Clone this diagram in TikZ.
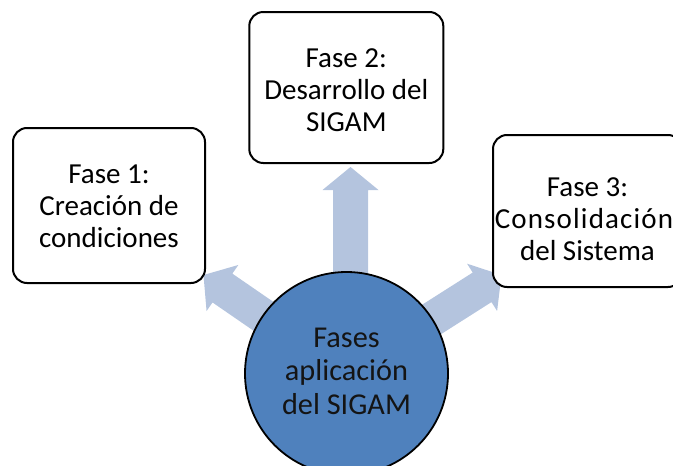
\documentclass[tikz,border=0pt]{standalone}
\usepackage{fontspec}
\setmainfont{Carlito}
\usetikzlibrary{calc}
\definecolor{arrowc}{RGB}{180,196,222}
\definecolor{circc}{RGB}{79,129,189}
\begin{document}
\begin{tikzpicture}[x=1pt,y=-1pt,
  phase/.style={draw=black, line width=2pt, rounded corners=14pt, fill=white,
    inner sep=0pt},
  phasetext/.style={align=center, inner sep=0pt, font=\fontsize{29}{32}\selectfont},
  hub/.style={circle, draw=black, line width=1.8pt, fill=circc,
    inner sep=0pt, minimum size=203pt},
  hubtext/.style={align=center, inner sep=0pt, text=black!92,
    font=\fontsize{30.3}{33.5}\selectfont},
  flowfill/.style={fill=arrowc}]
\useasboundingbox (0,0) rectangle (673,466);
\clip (0,0) rectangle (673,466);
% anchors of the arrows
\coordinate (hc) at (346.5,373.5);
\coordinate (s2) at (350.5,373.5);
\coordinate (t1) at (203.5,275);
\coordinate (t2) at (350.5,167);
\coordinate (t3) at (501.5,275);
% arrows
\foreach \a/\t in {hc/t1, s2/t2, hc/t3}{
  \coordinate (hh) at ($(\t)!23pt!(\a)$);
  \fill[flowfill]
    ($(\a)!17.5pt!90:(\t)$) -- ($(hh)!17.5pt!-90:(\a)$) -- ($(hh)!28pt!-90:(\a)$)
    -- (\t) -- ($(hh)!28pt!90:(\a)$) -- ($(hh)!17.5pt!90:(\a)$)
    -- ($(\a)!17.5pt!-90:(\t)$) -- cycle;
}
% boxes
\node[phase, minimum width=192pt, minimum height=155pt] (b1) at (109,205.5) {};
\node[phase, minimum width=194pt, minimum height=151pt] (b2) at (346.3,87.5) {};
\node[phase, minimum width=189pt, minimum height=152pt] (b3) at (587.5,211) {};
\node[phasetext] (b1t) at ($(b1.center)+(0,1)$) {Fase 1:\\Creación de\\condiciones};
\node[phasetext] (b2t) at ($(b2.center)+(0,3)$) {Fase 2:\\Desarrollo del\\SIGAM};
\node[phasetext] (b3t) at ($(b3.center)+(0,8.5)$)
  {Fase 3:\\\hspace*{-7pt}{\addfontfeature{LetterSpace=4}Consolidación}\\del Sistema};
% hub
\node[hub] (hub) at (hc) {};
\node[hubtext] (hubt) at ($(hub.center)+(0,-2.5)$) {Fases\\aplicación\\del SIGAM};
\end{tikzpicture}
\end{document}
